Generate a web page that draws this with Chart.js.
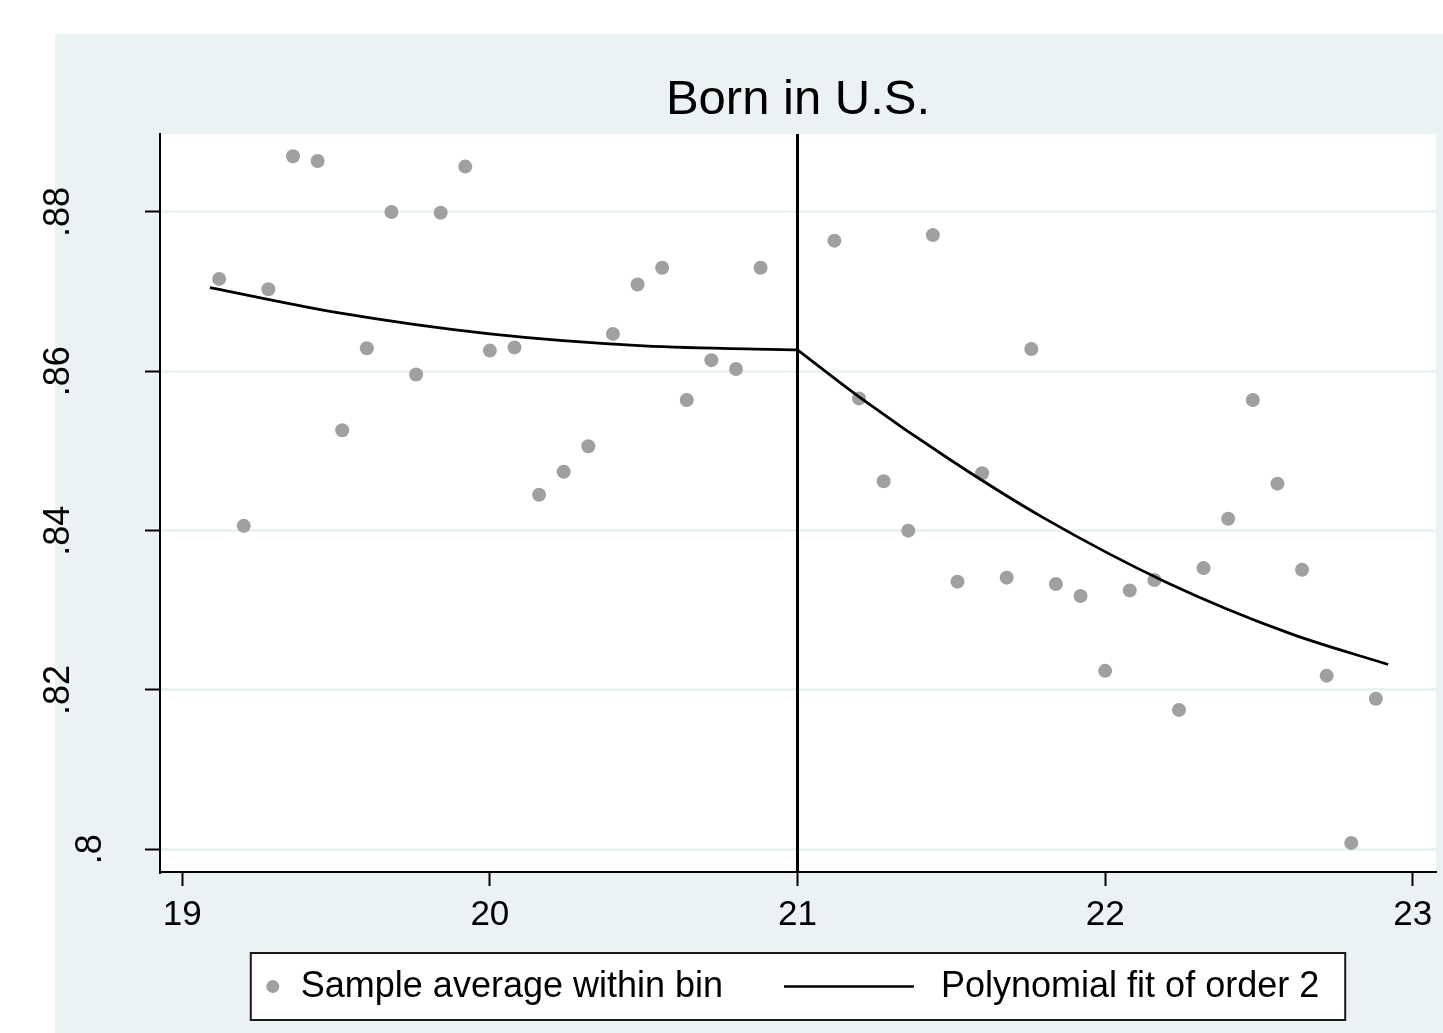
<!DOCTYPE html>
<html>
<head>
<meta charset="utf-8">
<script src="https://cdn.jsdelivr.net/npm/chart.js@4/dist/chart.umd.min.js"></script>
<style>
body { margin: 0; background: #fff; }
</style>
</head>
<body>
<canvas id="rd" width="1443" height="1033"></canvas>
<script>
// bins (age) and sample averages
const binX = [19.12, 19.20, 19.28, 19.36, 19.44, 19.52, 19.60, 19.68, 19.76, 19.84, 19.92, 20.00,
  20.08, 20.16, 20.24, 20.32, 20.40, 20.48, 20.56, 20.64, 20.72, 20.80, 20.88,
  21.12, 21.20, 21.28, 21.36, 21.44, 21.52, 21.60, 21.68, 21.76, 21.84, 21.92, 22.00,
  22.08, 22.16, 22.24, 22.32, 22.40, 22.48, 22.56, 22.64, 22.72, 22.80, 22.88]
const binMean = [.8716, .8406, .8703, .8870, .8864, .8526, .8629, .8800, .8596, .8799, .8857, .8626,
  .8630, .8445, .8474, .8506, .8647, .8709, .8730, .8564, .8614, .8603, .8730,
  .8764, .8566, .8462, .8400, .8771, .8336, .8472, .8341, .8628, .8333, .8318, .8224,
  .8325, .8338, .8175, .8353, .8415, .8564, .8459, .8351, .8218, .8008, .8189]
// fitted curves
const fitLeftX = [19.09, 19.5, 20.0, 20.5, 21.0]
const fitLeftY = [.8705, .8674, .8647, .8632, .8627]
const fitRightX = [21.0, 21.2, 21.5, 21.8, 22.2, 22.6, 22.92]
const fitRightY = [.8627, .8568, .8488, .8416, .8335, .8271, .8232]
const cutoff = 21
// axes
const xTicks = [19, 20, 21, 22, 23]
const xTickLabels = ["19", "20", "21", "22", "23"]
const yTicks = [.80, .82, .84, .86, .88]
const yTickLabels = [".8", ".82", ".84", ".86", ".88"]
const xMin = 18.9277, xMax = 23.0755
const yMin = .79715, yMax = .88979
const titleText = "Born in U.S."
const legendLabels = ["Sample average within bin", "Polynomial fit of order 2"]

const FONT = "'Liberation Sans', Arial, sans-serif"
const BG = "#EAF2F3"
const DOT = "#A0A0A0"
Chart.defaults.font.family = FONT
Chart.defaults.color = "#000"

const zip = (xs, ys) => xs.map((x, i) => ({x: x, y: ys[i]}))

const backdrop = {
  id: "backdrop",
  beforeDraw(chart) {
    const ctx = chart.ctx, a = chart.chartArea
    ctx.save()
    ctx.fillStyle = "#fff"
    ctx.fillRect(0, 0, chart.width, chart.height)
    ctx.fillStyle = BG
    ctx.fillRect(55, 34, chart.width - 55, chart.height - 34)
    ctx.fillStyle = "#fff"
    ctx.fillRect(a.left, a.top, a.right - a.left, a.bottom - a.top)
    ctx.restore()
  }
}

// rotated y tick labels, placed like Stata does
const yLabels = {
  id: "yLabels",
  afterDraw(chart) {
    const ctx = chart.ctx, y = chart.scales.y
    ctx.save()
    ctx.font = "36px " + FONT
    ctx.fillStyle = "#000"
    ctx.textAlign = "center"
    ctx.textBaseline = "alphabetic"
    yTicks.forEach((v, i) => {
      const py = y.getPixelForValue(v)
      const w = ctx.measureText(yTickLabels[i]).width
      const r = y.right - 11 - 1.6 * w
      ctx.save()
      ctx.translate(r, py)
      ctx.rotate(-Math.PI / 2)
      ctx.fillText(yTickLabels[i], 0, 0)
      ctx.restore()
    })
    ctx.restore()
  }
}

// boxed legend under the plot
const boxLegend = {
  id: "boxLegend",
  afterDraw(chart) {
    const ctx = chart.ctx, a = chart.chartArea
    ctx.save()
    ctx.font = "36px " + FONT
    const w1 = ctx.measureText(legendLabels[0]).width
    const w2 = ctx.measureText(legendLabels[1]).width
    const lineLen = 130
    const total = 16 + 12 + 22 + w1 + 61 + lineLen + 27 + w2 + 26
    const left = (a.left + a.right) / 2 - total / 2
    const top = a.bottom + 81, h = 67
    const cy = top + h / 2
    ctx.fillStyle = "#fff"
    ctx.fillRect(left, top, total, h)
    ctx.strokeStyle = "#1a1a1a"
    ctx.lineWidth = 2
    ctx.strokeRect(left, top, total, h)
    let x = left + 16
    ctx.fillStyle = DOT
    ctx.beginPath()
    ctx.arc(x + 6, cy, 6.5, 0, Math.PI * 2)
    ctx.fill()
    x += 12 + 22
    ctx.fillStyle = "#000"
    ctx.textAlign = "left"
    ctx.textBaseline = "middle"
    ctx.fillText(legendLabels[0], x, cy + 1)
    x += w1 + 61
    ctx.strokeStyle = "#000"
    ctx.lineWidth = 2.5
    ctx.beginPath()
    ctx.moveTo(x, cy)
    ctx.lineTo(x + lineLen, cy)
    ctx.stroke()
    x += lineLen + 27
    ctx.fillText(legendLabels[1], x, cy + 1)
    ctx.restore()
  }
}

const chart = new Chart(document.getElementById("rd"), {
  data: {
    datasets: [
      {
        type: "scatter",
        label: legendLabels[0],
        data: zip(binX, binMean),
        pointRadius: 7,
        pointHoverRadius: 7,
        pointBackgroundColor: DOT,
        pointBorderWidth: 0,
        order: 3
      },
      {
        type: "line",
        label: legendLabels[1],
        data: zip(fitLeftX, fitLeftY),
        borderColor: "#000",
        borderWidth: 2.8,
        pointRadius: 0,
        cubicInterpolationMode: "monotone",
        fill: false,
        order: 2
      },
      {
        type: "line",
        label: "fit right",
        data: zip(fitRightX, fitRightY),
        borderColor: "#000",
        borderWidth: 2.8,
        pointRadius: 0,
        cubicInterpolationMode: "monotone",
        fill: false,
        order: 2
      },
      {
        type: "line",
        label: "cutoff",
        data: [{x: cutoff, y: yMin}, {x: cutoff, y: yMax}],
        borderColor: "#000",
        borderWidth: 3,
        pointRadius: 0,
        fill: false,
        order: 1
      }
    ]
  },
  options: {
    responsive: false,
    animation: false,
    devicePixelRatio: 1,
    layout: { padding: { top: 34, left: 0, right: 3, bottom: 0 } },
    plugins: {
      legend: { display: false },
      tooltip: { enabled: false },
      title: {
        display: true,
        text: titleText,
        fullSize: false,
        color: "#000",
        font: { size: 49, weight: "normal", family: FONT },
        padding: { top: 37, bottom: 4.2 }
      }
    },
    scales: {
      x: {
        type: "linear",
        min: xMin,
        max: xMax,
        afterBuildTicks: s => { s.ticks = xTicks.map(v => ({value: v})) },
        afterFit: s => { s.height = 161 },
        ticks: {
          font: { size: 35 },
          color: "#000",
          padding: 8,
          maxRotation: 0,
          callback: v => xTickLabels[xTicks.indexOf(v)]
        },
        grid: {
          drawOnChartArea: false,
          tickLength: 14,
          tickColor: "#000",
          tickWidth: 2
        },
        border: { display: true, color: "#000", width: 2 }
      },
      y: {
        type: "linear",
        min: yMin,
        max: yMax,
        afterBuildTicks: s => { s.ticks = yTicks.map(v => ({value: v})) },
        afterFit: s => { s.width = 160 },
        ticks: { display: false },
        grid: {
          color: BG,
          lineWidth: 3,
          tickLength: 15,
          tickColor: "#000",
          tickWidth: 2
        },
        border: { display: true, color: "#000", width: 2 }
      }
    }
  },
  plugins: [backdrop, yLabels, boxLegend]
})
</script>
</body>
</html>
